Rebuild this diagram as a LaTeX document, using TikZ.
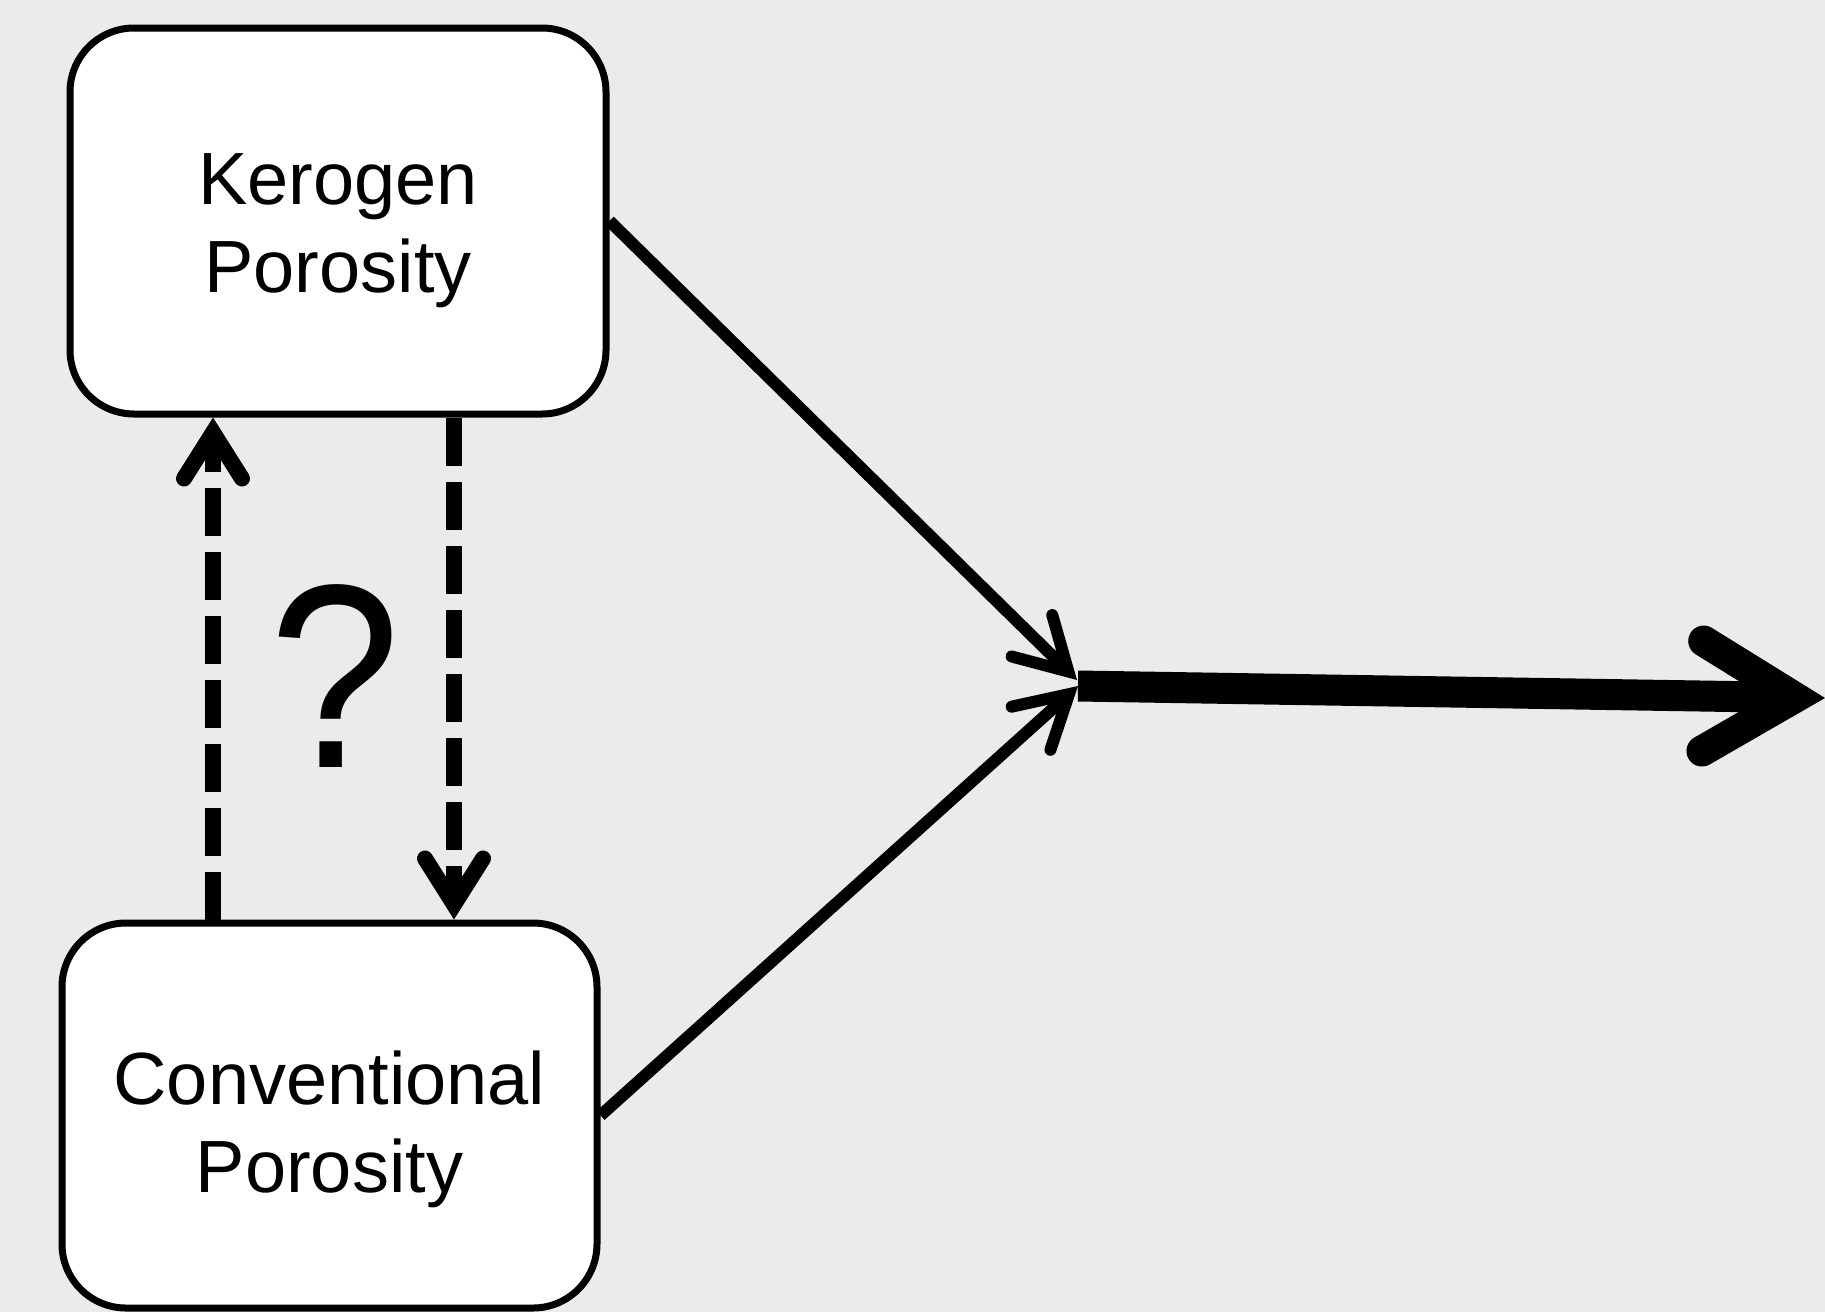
\documentclass[tikz,border=0pt]{standalone}
\usepackage{fontspec}
\usepackage{graphicx}
\setmainfont{Liberation Sans}
\usetikzlibrary{arrows.meta}
\definecolor{canvas}{HTML}{EBEBEB}
\begin{document}
\begin{tikzpicture}[x=1pt,y=-1pt,
  box/.style={draw=black, fill=white, line width=7pt, rounded corners=64pt,
    minimum width=536pt, minimum height=386pt, inner sep=0pt, align=center,
    font=\fontsize{74}{88}\selectfont},
  link/.style={line width=12pt,
    -{Straight Barb[length=51pt,width=58pt,line cap=round,line join=miter]}},
  maybe/.style={line width=16pt, dash pattern=on 48pt off 16pt,
    -{Straight Barb[length=46pt,width=58pt,line cap=round,line join=miter]}},
  result/.style={line width=31pt,
    -{Straight Barb[length=92pt,width=110pt,line cap=round,line join=miter]}}
]
% canvas
\fill[canvas] (0,0) rectangle (1825,1312);
\useasboundingbox (0,0) rectangle (1825,1312);

% the two porosity boxes
\node[box] (K) at (338,221) {\rule{0pt}{71pt}Kerogen\\Porosity};
\node[box, minimum width=535pt, minimum height=385pt] (C) at (329.5,1115.5)
  {\rule{0pt}{82pt}Conventional\\Porosity};

% uncertain interaction between them
\node[font=\fontsize{262}{262}\selectfont, inner sep=0pt] (Q) at (335,676)
  {\scalebox{0.9}[1]{?}};

% junction and outgoing end
\coordinate (jk) at (1077,680);
\coordinate (jc) at (1078,686);
\coordinate (out) at (1825,698);

\draw[maybe] (213,0 |- C.north) -- (213,0 |- K.south);
\draw[maybe] (454,0 |- K.south) -- (454,0 |- C.north);
\draw[link] (K.east) -- (jk);
\draw[link] (C.east) -- (jc);
\draw[result] (jc) -- (out);
\end{tikzpicture}
\end{document}
